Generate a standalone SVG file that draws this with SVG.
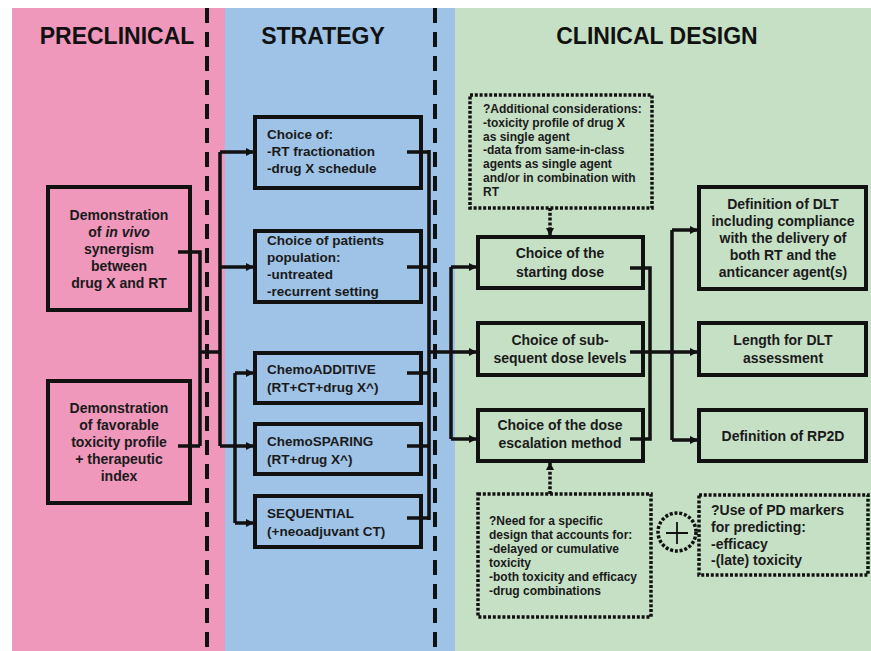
<svg xmlns="http://www.w3.org/2000/svg" width="871" height="651" viewBox="0 0 871 651">
<defs>
<style>
.box{fill:none;stroke:#111;stroke-width:4}
.dbox{fill:none;stroke:#111;stroke-width:3.5;stroke-dasharray:3 1.8}
.ln{fill:none;stroke:#111;stroke-width:3.5}
.dln{fill:none;stroke:#111;stroke-width:3.5;stroke-dasharray:3 1.8}
.sep{stroke:#111;stroke-width:4;stroke-dasharray:15 9}
.hd{font-family:"Liberation Sans",Arial,sans-serif;font-weight:bold;font-size:23px;fill:#111;text-anchor:middle}
.t{font-family:"Liberation Sans",Arial,sans-serif;font-weight:bold;font-size:14px;fill:#1a1a1a}
.ts{font-family:"Liberation Sans",Arial,sans-serif;font-weight:bold;font-size:13.5px;fill:#1a1a1a}
.tn{font-family:"Liberation Sans",Arial,sans-serif;font-weight:bold;font-size:12px;fill:#1a1a1a}
.tm{font-family:"Liberation Sans",Arial,sans-serif;font-weight:bold;font-size:12px;fill:#1a1a1a}
.c{text-anchor:middle}
</style>
<marker id="ah" viewBox="0 0 8 8" refX="8" refY="4" markerWidth="8" markerHeight="8" markerUnits="userSpaceOnUse" orient="auto">
<path d="M0,0 L8,4 L0,8 z" fill="#111"/>
</marker>
</defs>
<rect x="0" y="0" width="871" height="651" fill="#ffffff"/>
<g id="panels">
<rect x="12" y="8" width="213" height="643" fill="#EF98BC"/>
<rect x="225" y="8" width="230" height="643" fill="#9EC3E6"/>
<rect x="455" y="8" width="416" height="643" fill="#C6E0C5"/>
<line class="sep" x1="207" y1="8" x2="207" y2="651"/>
<line class="sep" x1="435" y1="8" x2="435" y2="651"/>
<text class="hd" x="117" y="44">PRECLINICAL</text>
<text class="hd" x="323" y="44">STRATEGY</text>
<text class="hd" x="657" y="44">CLINICAL DESIGN</text>
</g>
<g id="connectors">
<path class="ln" d="M178,252 H200 V446 M178,446 H200 M200,352 H220 M220,152 V446"/>
<path class="ln" marker-end="url(#ah)" d="M220,152 H254"/>
<path class="ln" marker-end="url(#ah)" d="M220,267 H254"/>
<path class="ln" marker-end="url(#ah)" d="M220,446 H254"/>
<path class="ln" d="M235,373 V523"/>
<path class="ln" marker-end="url(#ah)" d="M235,373 H254"/>
<path class="ln" marker-end="url(#ah)" d="M235,523 H254"/>
<path class="ln" d="M407,152 H429 M407,267 H429 M407,373 H429 M407,446 H429 M407,518 H429 M429,150 V520"/>
<path class="ln" marker-end="url(#ah)" d="M429,352 H477"/>
<path class="ln" d="M451,267 V439"/>
<path class="ln" marker-end="url(#ah)" d="M451,267 H477"/>
<path class="ln" marker-end="url(#ah)" d="M451,439 H477"/>
<path class="ln" d="M630,268 H650 V439 H630"/>
<path class="ln" marker-end="url(#ah)" d="M630,352 H698"/>
<path class="ln" d="M672,230 V440"/>
<path class="ln" marker-end="url(#ah)" d="M672,230 H698"/>
<path class="ln" marker-end="url(#ah)" d="M672,440 H698"/>
<path class="dln" marker-end="url(#ah)" d="M550,208 V236"/>
<path class="dln" marker-end="url(#ah)" d="M550,494 V462"/>
</g>
<g id="synergism">
<rect class="box" x="48" y="187" width="142" height="123"/>
<text class="t c" x="119" y="220">Demonstration</text>
<text class="t c" x="119" y="237">of <tspan font-style="italic">in vivo</tspan></text>
<text class="t c" x="119" y="254">synergism</text>
<text class="t c" x="119" y="271">between</text>
<text class="t c" x="119" y="288">drug X and RT</text>
</g>
<g id="toxicity">
<rect class="box" x="48" y="381" width="142" height="122"/>
<text class="t c" x="119" y="413">Demonstration</text>
<text class="t c" x="119" y="430">of favorable</text>
<text class="t c" x="119" y="447">toxicity profile</text>
<text class="t c" x="119" y="464">+ therapeutic</text>
<text class="t c" x="119" y="481">index</text>
</g>
<g id="choice-of">
<rect class="box" x="255" y="117" width="166" height="71"/>
<text class="ts" x="267" y="139">Choice of:</text>
<text class="ts" x="267" y="156">-RT fractionation</text>
<text class="ts" x="267" y="173">-drug X schedule</text>
</g>
<g id="patients">
<rect class="box" x="255" y="231" width="166" height="71"/>
<text class="ts" x="267" y="245">Choice of patients</text>
<text class="ts" x="267" y="262">population:</text>
<text class="ts" x="267" y="279">-untreated</text>
<text class="ts" x="267" y="296">-recurrent setting</text>
</g>
<g id="chemoadditive">
<rect class="box" x="255" y="353" width="166" height="50"/>
<text class="ts" x="267" y="374">ChemoADDITIVE</text>
<text class="ts" x="267" y="392">(RT+CT+drug X^)</text>
</g>
<g id="chemosparing">
<rect class="box" x="255" y="424" width="166" height="50"/>
<text class="ts" x="267" y="446">ChemoSPARING</text>
<text class="ts" x="267" y="464">(RT+drug X^)</text>
</g>
<g id="sequential">
<rect class="box" x="255" y="496" width="166" height="51"/>
<text class="ts" x="267" y="518">SEQUENTIAL</text>
<text class="ts" x="267" y="536">(+neoadjuvant CT)</text>
</g>
<g id="additional">
<rect class="dbox" x="470" y="95" width="182" height="113"/>
<text class="tn" x="483" y="113">?Additional considerations:</text>
<text class="tn" x="483" y="127">-toxicity profile of drug X</text>
<text class="tn" x="483" y="141">as single agent</text>
<text class="tn" x="483" y="154">-data from same-in-class</text>
<text class="tn" x="483" y="168">agents as single agent</text>
<text class="tn" x="483" y="182">and/or in combination with</text>
<text class="tn" x="483" y="196">RT</text>
</g>
<g id="starting-dose">
<rect class="box" x="478" y="237" width="165" height="51"/>
<text class="t c" x="560" y="258">Choice of the</text>
<text class="t c" x="560" y="277">starting dose</text>
</g>
<g id="subsequent">
<rect class="box" x="478" y="323" width="165" height="52"/>
<text class="t c" x="560" y="345">Choice of sub-</text>
<text class="t c" x="560" y="363">sequent dose levels</text>
</g>
<g id="escalation">
<rect class="box" x="478" y="410" width="165" height="51"/>
<text class="t c" x="560" y="430">Choice of the dose</text>
<text class="t c" x="560" y="448">escalation method</text>
</g>
<g id="dlt">
<rect class="box" x="699" y="187" width="167" height="102"/>
<text class="t c" x="783" y="209">Definition of DLT</text>
<text class="t c" x="783" y="226">including compliance</text>
<text class="t c" x="783" y="243">with the delivery of</text>
<text class="t c" x="783" y="260">both RT and the</text>
<text class="t c" x="783" y="277">anticancer agent(s)</text>
</g>
<g id="length">
<rect class="box" x="699" y="323" width="167" height="52"/>
<text class="t c" x="783" y="345">Length for DLT</text>
<text class="t c" x="783" y="363">assessment</text>
</g>
<g id="rp2d">
<rect class="box" x="699" y="410" width="167" height="51"/>
<text class="t c" x="783" y="441">Definition of RP2D</text>
</g>
<g id="need">
<rect class="dbox" x="478" y="494" width="173" height="123"/>
<text class="tm" x="489" y="525">?Need for a specific</text>
<text class="tm" x="489" y="539">design that accounts for:</text>
<text class="tm" x="489" y="553">-delayed or cumulative</text>
<text class="tm" x="489" y="567">toxicity</text>
<text class="tm" x="489" y="581">-both toxicity and efficacy</text>
<text class="tm" x="489" y="595">-drug combinations</text>
</g>
<g id="plus">
<circle class="dbox" cx="677" cy="532" r="19"/>
<path d="M666,533 H688 M677,522 V544" stroke="#111" stroke-width="1.8" fill="none"/>
</g>
<g id="pd-markers">
<rect class="dbox" x="699" y="495" width="169" height="80"/>
<text class="t" x="711" y="515">?Use of PD markers</text>
<text class="t" x="711" y="532">for predicting:</text>
<text class="t" x="711" y="549">-efficacy</text>
<text class="t" x="711" y="565">-(late) toxicity</text>
</g>
</svg>
